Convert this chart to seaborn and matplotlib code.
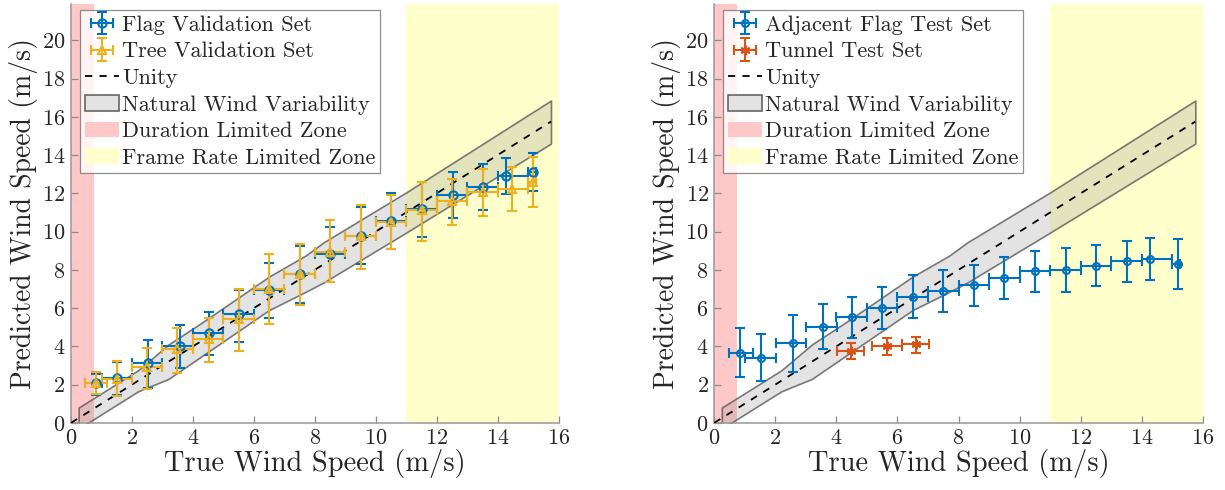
import numpy as np
import pandas as pd
import seaborn as sns
import matplotlib
matplotlib.use('Agg')
from matplotlib import pyplot as plt
from matplotlib.patches import Patch
from matplotlib.lines import Line2D
from matplotlib.legend_handler import HandlerTuple

# --- data ---
# natural wind variability band (same on both panels)
band_x = [0.25, 2.2, 3.2, 4.3, 6.5, 7.7, 8.3, 11.0, 15.75]
band_hi = [0.8, 2.75, 4.1, 5.25, 7.65, 8.75, 9.45, 12.05, 16.85]
band_lo = [-0.3, 1.65, 2.3, 3.5, 5.9, 6.85, 7.35, 9.95, 14.6]
unity_x = [0, 15.75]

# left panel
flag_x = [0.82, 1.52, 2.54, 3.57, 4.54, 5.51, 6.5, 7.51, 8.51, 9.51, 10.51, 11.52, 12.54, 13.52, 14.28, 15.16]
flag_y = [2.10, 2.32, 3.14, 4.02, 4.72, 5.68, 6.95, 7.77, 8.82, 9.75, 10.57, 11.18, 11.93, 12.35, 12.93, 13.10]
flag_yhi = [2.53, 3.2, 4.31, 5.12, 5.82, 6.95, 8.38, 9.26, 10.25, 11.27, 12.02, 12.61, 13.10, 13.54, 13.83, 14.11]
flag_ylo = [1.48, 1.45, 1.83, 2.88, 3.53, 4.24, 5.50, 6.25, 7.34, 8.30, 9.08, 9.69, 10.71, 11.14, 11.97, 12.14]
flag_xlo = [0.46, 1.0, 2.0, 3.0, 4.0, 5.0, 6.0, 7.0, 8.0, 9.0, 10.0, 11.0, 12.0, 13.0, 14.0, 15.0]
flag_xhi = [1.0, 2.0, 3.0, 4.0, 5.0, 6.0, 7.0, 8.0, 9.0, 10.0, 11.0, 12.0, 13.0, 14.0, 15.0, 15.27]

tree_x = [0.81, 1.52, 2.50, 3.49, 4.52, 5.51, 6.49, 7.51, 8.51, 9.51, 10.51, 11.52, 12.51, 13.52, 14.48, 15.16]
tree_y = [2.10, 2.31, 2.92, 3.84, 4.37, 5.41, 6.99, 7.77, 8.94, 9.78, 10.52, 11.14, 11.62, 12.09, 12.23, 12.61]
tree_yhi = [2.65, 3.23, 3.93, 4.98, 5.50, 6.99, 8.82, 9.34, 10.62, 11.39, 11.91, 12.61, 12.75, 13.28, 13.36, 13.89]
tree_ylo = [1.52, 1.43, 1.75, 2.62, 3.18, 3.76, 5.15, 6.15, 7.34, 8.03, 9.08, 9.52, 10.34, 10.79, 11.09, 11.27]
tree_xlo = [0.46, 1.0, 2.0, 3.0, 4.0, 5.0, 6.0, 7.0, 8.0, 9.0, 10.0, 11.0, 12.0, 13.0, 14.0, 15.0]
tree_xhi = [1.17, 2.0, 3.0, 4.0, 5.0, 6.0, 7.0, 8.0, 9.0, 10.0, 11.0, 12.0, 13.0, 14.0, 15.0, 15.27]

# right panel
adj_x = [0.84, 1.52, 2.57, 3.55, 4.51, 5.50, 6.50, 7.50, 8.49, 9.49, 10.51, 11.51, 12.51, 13.51, 14.27, 15.18]
adj_y = [3.67, 3.41, 4.16, 5.03, 5.54, 6.03, 6.59, 6.90, 7.21, 7.56, 7.95, 8.00, 8.21, 8.44, 8.56, 8.30]
adj_yhi = [4.94, 4.63, 5.64, 6.20, 6.59, 7.11, 7.72, 8.00, 8.26, 8.65, 9.00, 9.12, 9.29, 9.52, 9.64, 9.61]
adj_ylo = [2.41, 2.18, 2.66, 3.88, 4.45, 4.89, 5.50, 5.82, 6.11, 6.46, 6.85, 6.86, 7.13, 7.37, 7.46, 6.99]
adj_xlo = [0.49, 1.0, 2.02, 3.0, 4.0, 5.0, 6.0, 7.0, 8.0, 9.0, 10.0, 11.0, 12.0, 13.0, 14.0, 14.98]
adj_xhi = [1.28, 2.02, 3.0, 4.01, 4.99, 6.0, 7.0, 8.0, 9.0, 10.0, 11.0, 12.0, 13.0, 14.0, 14.98, 15.26]

tun_x = [4.47, 5.65, 6.60]
tun_y = [3.76, 4.02, 4.10]
tun_yhi = [4.16, 4.45, 4.51]
tun_ylo = [3.32, 3.53, 3.67]
tun_xlo = [4.01, 5.18, 6.14]
tun_xhi = [4.91, 6.14, 7.04]

blue = '#0072BD'
gold = '#EDB120'
orange = '#D95319'

sns.set_style('ticks')
plt.rcParams['font.family'] = ['cmr10', 'DejaVu Serif']
plt.rcParams['axes.formatter.use_mathtext'] = True
plt.rcParams['mathtext.fontset'] = 'cm'


def draw_errs(ax, x, y, ylo, yhi, xlo, xhi, color):
    x = np.array(x); y = np.array(y)
    yerr = [y - np.array(ylo), np.array(yhi) - y]
    xerr = [x - np.array(xlo), np.array(xhi) - x]
    return ax.errorbar(x, y, yerr=yerr, xerr=xerr, fmt='none', color=color,
                       elinewidth=1.5, capsize=3.5, capthick=1.5, zorder=4)


def draw_marks(ax, x, y, color, marker, ms=6):
    line, = ax.plot(x, y, linestyle='none', marker=marker, mfc='none', mec=color,
                    ms=ms, mew=1.5, zorder=5)
    return line


def setup(ax):
    ax.axvspan(0, 0.75, color='#ffc8c8', lw=0, zorder=0)
    ax.axvspan(11, 16, color='#ffffcc', lw=0, zorder=0)
    ax.fill_between(band_x, band_lo, band_hi, facecolor=(0.55, 0.55, 0.55, 0.24),
                    edgecolor=(0.35, 0.35, 0.35, 0.8), lw=1.2, zorder=1)
    sns.lineplot(x=unity_x, y=unity_x, ax=ax, color='black', linestyle=(0, (4, 4)), lw=1.3, zorder=3)
    ax.set_xlim(0, 16)
    ax.set_ylim(0, 21.9)
    ax.set_xticks(range(0, 17, 2))
    ax.set_yticks(range(0, 21, 2))
    ax.tick_params(direction='in', labelsize=16, length=5, color='0.55', width=0.9, pad=4)
    for s in ['top', 'right']:
        ax.spines[s].set_visible(False)
    for s in ['left', 'bottom']:
        ax.spines[s].set_color('0.6')
        ax.spines[s].set_linewidth(1.1)
    ax.set_xlabel('True Wind Speed (m/s)', fontsize=20.5, labelpad=1)
    ax.set_ylabel('Predicted Wind Speed (m/s)', fontsize=20, labelpad=3)


def extra_handles():
    return [Line2D([], [], color='black', linestyle=(0, (4, 4)), lw=1.3),
            Patch(facecolor='#e3e3e3', edgecolor='0.4', lw=1.2),
            Patch(facecolor='#ffc8c8', edgecolor='none'),
            Patch(facecolor='#ffffcc', edgecolor='none')]


extra_labels = ['Unity', 'Natural Wind Variability', 'Duration Limited Zone', 'Frame Rate Limited Zone']
star = (6, 2, 0)

fig = plt.figure(figsize=(12.25, 4.9), dpi=100)
ax1 = fig.add_axes([0.058, 0.137, 0.398, 0.855])
ax2 = fig.add_axes([0.583, 0.137, 0.399, 0.855])

for ax in (ax1, ax2):
    setup(ax)

e1 = draw_errs(ax1, flag_x, flag_y, flag_ylo, flag_yhi, flag_xlo, flag_xhi, blue)
m1 = draw_marks(ax1, flag_x, flag_y, blue, 'o')
e2 = draw_errs(ax1, tree_x, tree_y, tree_ylo, tree_yhi, tree_xlo, tree_xhi, gold)
m2 = draw_marks(ax1, tree_x, tree_y, gold, '^')
e3 = draw_errs(ax2, adj_x, adj_y, adj_ylo, adj_yhi, adj_xlo, adj_xhi, blue)
m3 = draw_marks(ax2, adj_x, adj_y, blue, 'o', ms=5)
e4 = draw_errs(ax2, tun_x, tun_y, tun_ylo, tun_yhi, tun_xlo, tun_xhi, orange)
m4 = draw_marks(ax2, tun_x, tun_y, orange, star, ms=7)

hmap = {tuple: HandlerTuple(ndivide=1, pad=0)}
for ax, hs, labs in [(ax1, [(e1, m1), (e2, m2)], ['Flag Validation Set', 'Tree Validation Set']),
                     (ax2, [(e3, m3), (e4, m4)], ['Adjacent Flag Test Set', 'Tunnel Test Set'])]:
    leg = ax.legend(hs + extra_handles(), labs + extra_labels, loc='upper left',
                    bbox_to_anchor=(0.019, 0.985), fontsize=16, frameon=True, fancybox=False,
                    handlelength=1.5, handletextpad=0.15, labelspacing=0.32, borderpad=0.22,
                    borderaxespad=0.0, handler_map=hmap)
    leg.get_frame().set_edgecolor('0.45')
    leg.get_frame().set_linewidth(0.9)
    leg.set_zorder(10)

fig.savefig('out.png', dpi=100)
